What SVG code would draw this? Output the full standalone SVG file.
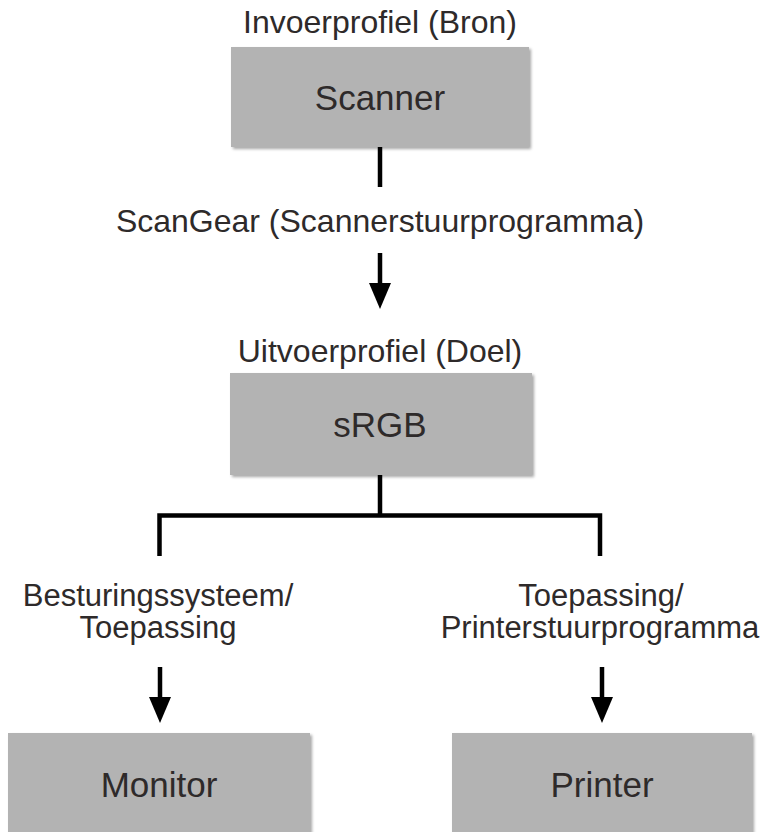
<svg xmlns="http://www.w3.org/2000/svg" width="769" height="832" viewBox="0 0 769 832">
  <style>
    .box { fill: #b3b3b3; }
    .lbl { font-family: "Liberation Sans", Arial, sans-serif; font-size: 32px; fill: #2e2a2a; text-anchor: middle; }
    .sub { font-family: "Liberation Sans", Arial, sans-serif; font-size: 31px; fill: #2e2a2a; text-anchor: middle; }
    .name { font-family: "Liberation Sans", Arial, sans-serif; font-size: 35px; fill: #2e2a2a; text-anchor: middle; }
    .wire { fill: none; stroke: #000; stroke-width: 4.5; }
  </style>
  <defs>
    <filter id="sh" x="-5%" y="-5%" width="115%" height="120%">
      <feGaussianBlur in="SourceAlpha" stdDeviation="1.5"/>
      <feOffset dx="2" dy="2" result="b"/>
      <feComponentTransfer><feFuncA type="linear" slope="0.35"/></feComponentTransfer>
      <feMerge><feMergeNode/><feMergeNode in="SourceGraphic"/></feMerge>
    </filter>
  </defs>
  <rect width="769" height="832" fill="#fff"/>

  <g id="connectors">
    <line class="wire" x1="380" y1="147" x2="380" y2="187"/>
    <line class="wire" x1="380" y1="253" x2="380" y2="284"/>
    <path d="M369,283 L391,283 L380,309 Z" fill="#000"/>
    <path class="wire" d="M380,475 L380,515.5 M159.5,556 L159.5,515.5 L600,515.5 L600,556"/>
    <line class="wire" x1="160" y1="667" x2="160" y2="698"/>
    <path d="M149,697 L171,697 L160,723 Z" fill="#000"/>
    <line class="wire" x1="602" y1="667" x2="602" y2="698"/>
    <path d="M591,697 L613,697 L602,723 Z" fill="#000"/>
  </g>

  <g id="label-scangear">
    <text class="lbl" x="380" y="232">ScanGear (Scannerstuurprogramma)</text>
  </g>
  <g id="label-os">
    <text class="sub" x="158" y="606">Besturingssysteem/</text>
    <text class="sub" x="158" y="638">Toepassing</text>
  </g>
  <g id="label-app">
    <text class="sub" x="601" y="606">Toepassing/</text>
    <text class="sub" x="600" y="638">Printerstuurprogramma</text>
  </g>

  <g id="scanner">
    <text class="lbl" x="380" y="33">Invoerprofiel (Bron)</text>
    <rect class="box" x="231" y="47" width="298" height="100" filter="url(#sh)"/>
    <text class="name" x="380" y="110">Scanner</text>
  </g>

  <g id="srgb">
    <text class="lbl" x="380" y="362">Uitvoerprofiel (Doel)</text>
    <rect class="box" x="230" y="373" width="302" height="102" filter="url(#sh)"/>
    <text class="name" x="380" y="437">sRGB</text>
  </g>

  <g id="monitor">
    <rect class="box" x="8" y="733" width="302" height="110" filter="url(#sh)"/>
    <text class="name" x="159" y="797">Monitor</text>
  </g>

  <g id="printer">
    <rect class="box" x="452" y="733" width="300" height="110" filter="url(#sh)"/>
    <text class="name" x="602" y="797">Printer</text>
  </g>
</svg>
